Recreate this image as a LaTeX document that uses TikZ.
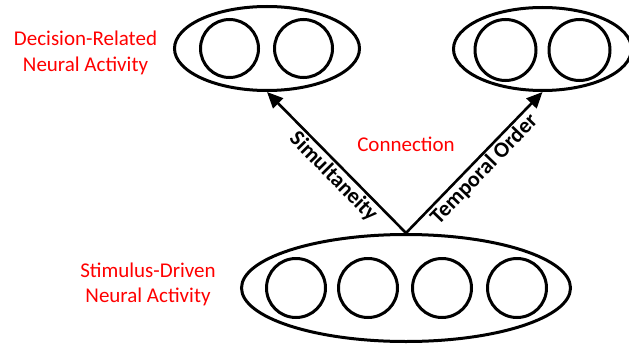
\documentclass[tikz,border=0pt]{standalone}
\usepackage{fontspec}
\setmainfont{Carlito}
\usetikzlibrary{shapes.geometric, arrows.meta}
\begin{document}
\begin{tikzpicture}[x=1pt, y=-1pt,
  group/.style={ellipse, draw, line width=3pt, inner sep=0pt},
  neuron/.style={circle, draw, line width=3pt, inner sep=0pt, minimum size=59pt},
  conn/.style={line width=2.6pt, -{Triangle[length=16pt, width=14pt]}},
  lab/.style={font=\fontsize{22}{26}\selectfont\bfseries, inner sep=1.5pt},
  redlab/.style={text=red, font=\fontsize{21}{25.5}\selectfont, align=center, inner sep=0pt}
]
\clip (0,0) rectangle (629,345);
% groups
\node[group, minimum width=185pt, minimum height=84pt] (decL) at (267,48.5) {};
\node[group, minimum width=178pt, minimum height=83pt] (decR) at (542.5,49) {};
\node[group, minimum width=329pt, minimum height=107pt] (stim) at (406,288) {};
% neurons
\node[neuron, minimum size=58pt] (l1) at (229.5,48.5) {};
\node[neuron, minimum size=58pt] (l2) at (303.5,48.5) {};
\node[neuron, minimum size=61pt] (r1) at (505.5,50) {};
\node[neuron, minimum size=61pt] (r2) at (579.5,50) {};
\node[neuron] (s1) at (296,288) {};
\node[neuron] (s2) at (368,288) {};
\node[neuron] (s3) at (442,288) {};
\node[neuron] (s4) at (517,288) {};
% connectors
\draw[conn] (stim.north) -- (decL.south) node[lab, pos=0.46, sloped, below] {Simultaneity};
\draw[conn] (stim.north) -- (decR.south) node[lab, pos=0.51, sloped, below] {Temporal Order};
% labels
\node[redlab, anchor=base] (connl) at (406,151) {Connection};
\node[redlab] (declab) at (85.5,53) {Decision-Related\\Neural Activity};
\node[redlab] (stimlab) at (148,284.5) {Stimulus-Driven\\Neural Activity};
\end{tikzpicture}
\end{document}
